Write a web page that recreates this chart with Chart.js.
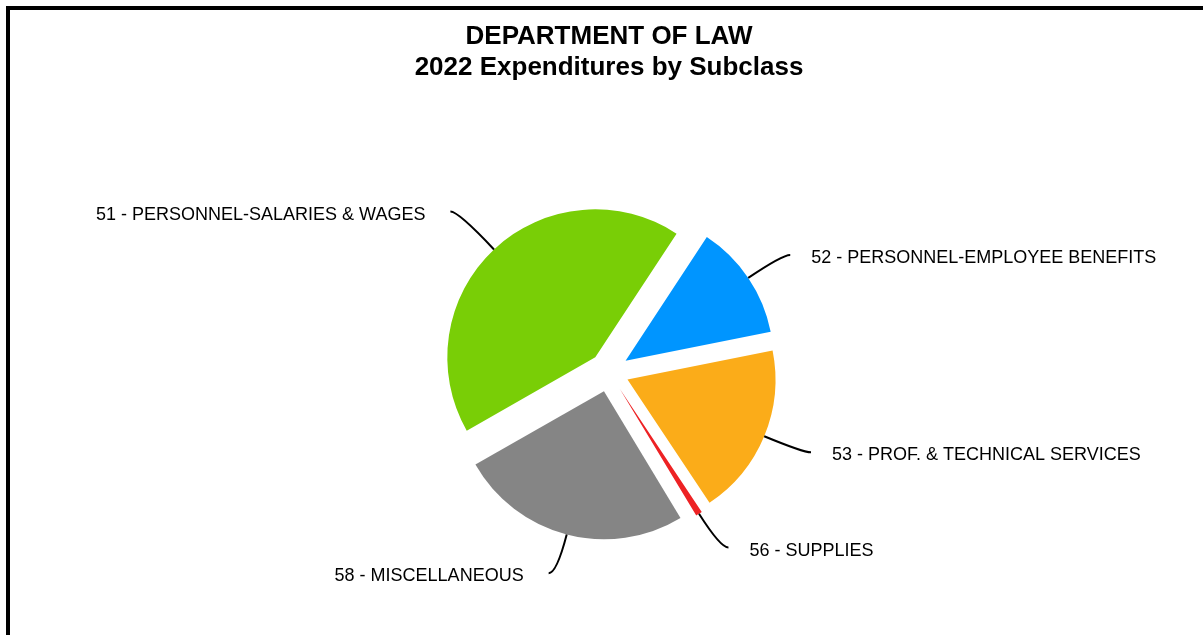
<!DOCTYPE html>
<html>
<head>
<meta charset="utf-8">
<title>Department of Law - 2022 Expenditures by Subclass</title>
<script src="https://cdn.jsdelivr.net/npm/chart.js"></script>
<style>
  html, body { margin: 0; padding: 0; background: #fff; overflow: hidden; }
  #wrap { position: relative; width: 1203px; height: 635px; }
  /* frame: only left and top edges are visible in the picture */
  #frame { position: absolute; left: 6px; top: 6px; width: 1300px; height: 700px;
           border-left: 4px solid #000; border-top: 4px solid #000; }
  #pie { position: absolute; left: 0; top: 0; }
</style>
</head>
<body>
<div id="wrap">
  <div id="frame"></div>
  <canvas id="pie" width="1203" height="635"></canvas>
</div>
<script>
// --- data ---
const subclassLabels = [
  '51 - PERSONNEL-SALARIES & WAGES',
  '52 - PERSONNEL-EMPLOYEE BENEFITS',
  '53 - PROF. & TECHNICAL SERVICES',
  '56 - SUPPLIES',
  '58 - MISCELLANEOUS'
];
const subclassShare = [42.5, 12.6, 18.8, 0.7, 25.4]; // % of total spend
const sliceColors = ['#79CE06', '#0095FF', '#FBAC19', '#ED2224', '#858585'];
const titleLines = ['DEPARTMENT OF LAW', '2022 Expenditures by Subclass'];

// --- layout ---
const PIE_RADIUS = 148;
const EXPLODE = 20;                 // px each slice is pulled out
const leaderLen = [52, 41, 42, 40, 40];
const HOOK = 8;
const FONT = '"Liberation Sans", Arial, Helvetica, sans-serif';

// Chart.js grows thin slices by offset*(1-sin(circ)) and trims offset/PI px of arc;
// undo both so every slice keeps its true radius and angle
const explodeFix = {
  id: 'explodeFix',
  afterDatasetUpdate(chart, args) {
    args.meta.data.forEach(arc => {
      const grow = EXPLODE * (1 - Math.sin(Math.min(Math.PI, arc.circumference)));
      arc.outerRadius = PIE_RADIUS - grow;
      const widen = (grow / Math.PI) / PIE_RADIUS;
      arc.startAngle -= widen / 2;
      arc.endAngle += widen / 2;
    });
  }
};

// curved leader lines + outside labels
const leaderLabels = {
  id: 'leaderLabels',
  afterDatasetsDraw(chart) {
    const ctx = chart.ctx;
    const meta = chart.getDatasetMeta(0);
    ctx.save();
    ctx.strokeStyle = '#000';
    ctx.lineWidth = 2;
    ctx.fillStyle = '#000';
    ctx.font = '18px ' + FONT;
    ctx.textBaseline = 'alphabetic';
    meta.data.forEach((arc, i) => {
      const a = (arc.startAngle + arc.endAngle) / 2;
      const cos = Math.cos(a), sin = Math.sin(a);
      const cx = arc.x + cos * EXPLODE, cy = arc.y + sin * EXPLODE;
      const sx = cx + cos * PIE_RADIUS, sy = cy + sin * PIE_RADIUS;
      const ex = sx + cos * leaderLen[i], ey = sy + sin * leaderLen[i];
      const side = cos >= 0 ? 1 : -1;
      const tx = ex + side * HOOK, ty = ey;

      ctx.beginPath();
      ctx.moveTo(sx, sy);
      ctx.quadraticCurveTo(ex, ey, tx, ty);
      ctx.stroke();

      ctx.textAlign = side > 0 ? 'left' : 'right';
      ctx.fillText(subclassLabels[i], tx + side * (side > 0 ? 21 : 25), ty + 8);
    });
    ctx.restore();
  }
};

new Chart(document.getElementById('pie'), {
  type: 'pie',
  data: {
    labels: subclassLabels,
    datasets: [{
      data: subclassShare,
      backgroundColor: sliceColors,
      borderWidth: 0,
      offset: EXPLODE * 4,   // arc.draw translates by offset / 4
      radius: PIE_RADIUS
    }]
  },
  options: {
    responsive: false,
    animation: false,
    events: [],
    rotation: 240.3,
    layout: { padding: { left: 15, right: 0, top: 0, bottom: 6 } },
    plugins: {
      legend: { display: false },
      tooltip: { enabled: false },
      title: {
        display: true,
        text: titleLines,
        color: '#000',
        font: { family: FONT, size: 26, weight: 'bold', lineHeight: 1.17 },
        padding: { top: 22, bottom: 32 }
      }
    }
  },
  plugins: [explodeFix, leaderLabels]
});
</script>
</body>
</html>
